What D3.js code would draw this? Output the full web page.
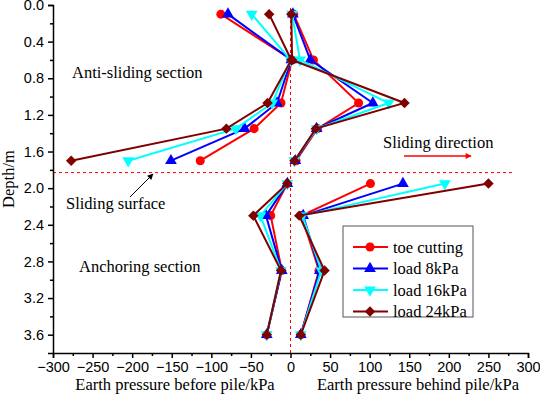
<!DOCTYPE html>
<html>
<head>
<meta charset="utf-8">
<script src="https://cdn.jsdelivr.net/npm/d3@7"></script>
<style>
  body { margin: 0; background: #fff; }
  svg { display: block; }
</style>
</head>
<body>
<div id="chart"></div>
<script>
// depths (m) where the pressure cells sit
var depthUpper = [0.1, 0.6, 1.07, 1.35, 1.7];
var depthLower = [1.95, 2.3, 2.9, 3.6];

var seriesNames = ["toe cutting", "load 8kPa", "load 16kPa", "load 24kPa"];

// earth pressure before pile (kPa), upper part
var beforeUpper = [
  [-88, 2, -12, -46, -114],
  [-79, 1, -17, -58, -151],
  [-49, 0, -23, -69, -205],
  [-27, 1, -29, -81, -277]
];
// earth pressure behind pile (kPa), upper part
var behindUpper = [
  [4, 29, 86, 34, 7],
  [3, 25, 104, 33, 6],
  [2, 12, 124, 33, 5],
  [1, 2, 144, 32, 5]
];
// lower part
var beforeLower = [
  [-4, -25, -11, -30],
  [-4, -31, -11, -30],
  [-4, -38, -12, -30],
  [-4, -47, -12, -30]
];
var behindLower = [
  [101, 14, 36, 13],
  [142, 16, 37, 13],
  [195, 15, 39, 13],
  [250, 11, 43, 13]
];

var xTicks = [-300, -250, -200, -150, -100, -50, 0, 50, 100, 150, 200, 250, 300];
var yTicks = [0.0, 0.4, 0.8, 1.2, 1.6, 2.0, 2.4, 2.8, 3.2, 3.6];
var slidingDepth = 1.83;

var colors = ["#ff0000", "#0000ff", "#00ffff", "#800000"];
var symbols = [d3.symbolCircle, d3.symbolTriangle, d3.symbolTriangle, d3.symbolDiamond2];
var symbolRotate = [0, 0, 180, 0];
var symbolSize = [64, 60, 60, 70];

var width = 540, height = 396;
var x0 = 53, x1 = 528, yTop = 5, yBot = 353;

var serif = "'Liberation Serif', 'Times New Roman', serif";
var sans = "'Liberation Sans', Arial, sans-serif";
var serifSize = 16.5;

var svg = d3.select("#chart").append("svg")
  .attr("width", width)
  .attr("height", height);

var x = d3.scaleLinear().domain([-300, 300]).range([x0, x1]);
var y = d3.scaleLinear().domain([0, 3.8]).range([yTop, yBot]);

// reference lines
svg.append("line")
  .attr("x1", x(0)).attr("x2", x(0))
  .attr("y1", yTop + 3).attr("y2", yBot)
  .attr("stroke", "#ff0000").attr("stroke-width", 1)
  .attr("stroke-dasharray", "3,3");
svg.append("line")
  .attr("x1", x0).attr("x2", 515)
  .attr("y1", y(slidingDepth)).attr("y2", y(slidingDepth))
  .attr("stroke", "#ff0000").attr("stroke-width", 1)
  .attr("stroke-dasharray", "3,3");

// axes
var xAxis = d3.axisBottom(x).tickValues(xTicks).tickSize(5).tickPadding(4)
  .tickFormat(d3.format("d"));
var gx = svg.append("g").attr("transform", "translate(0," + yBot + ")").call(xAxis);
gx.selectAll(".tick text").attr("font-family", sans).attr("font-size", 14.5).attr("fill", "#000");

var xMinor = d3.axisBottom(x).tickValues(d3.range(-275, 300, 50)).tickSize(3).tickFormat("");
svg.append("g").attr("transform", "translate(0," + yBot + ")").call(xMinor)
  .select(".domain").remove();

var yAxis = d3.axisLeft(y).tickValues(yTicks).tickSize(5).tickPadding(4)
  .tickFormat(d3.format(".1f"));
var gy = svg.append("g").attr("transform", "translate(" + x0 + ",0)").call(yAxis);
gy.selectAll(".tick text").attr("font-family", sans).attr("font-size", 14.5).attr("fill", "#000");

var yMinor = d3.axisLeft(y).tickValues(d3.range(0.2, 3.8, 0.4)).tickSize(3).tickFormat("");
svg.append("g").attr("transform", "translate(" + x0 + ",0)").call(yMinor)
  .select(".domain").remove();

svg.selectAll(".domain").attr("stroke", "#000").attr("stroke-width", 1.5);
svg.selectAll(".tick line").attr("stroke", "#000").attr("stroke-width", 1.5);

// axis titles
svg.append("text")
  .attr("x", 175).attr("y", 390)
  .attr("text-anchor", "middle")
  .attr("font-family", serif).attr("font-size", serifSize)
  .text("Earth pressure before pile/kPa");
svg.append("text")
  .attr("x", 418).attr("y", 390)
  .attr("text-anchor", "middle")
  .attr("font-family", serif).attr("font-size", serifSize)
  .text("Earth pressure behind pile/kPa");
svg.append("text")
  .attr("transform", "translate(14," + ((yTop + yBot) / 2) + ") rotate(-90)")
  .attr("text-anchor", "middle")
  .attr("font-family", serif).attr("font-size", serifSize)
  .text("Depth/m");

// series
var line = d3.line()
  .x(function (d) { return x(d[0]); })
  .y(function (d) { return y(d[1]); });

function pairs(vals, depths) {
  return vals.map(function (v, i) { return [v, depths[i]]; });
}

seriesNames.forEach(function (name, s) {
  var groups = [
    pairs(beforeUpper[s], depthUpper),
    pairs(behindUpper[s], depthUpper),
    pairs(beforeLower[s], depthLower),
    pairs(behindLower[s], depthLower)
  ];
  var g = svg.append("g").attr("class", "series");
  groups.forEach(function (pts) {
    g.append("path")
      .attr("d", line(pts))
      .attr("fill", "none")
      .attr("stroke", colors[s])
      .attr("stroke-width", 2);
    g.selectAll(null)
      .data(pts)
      .enter()
      .append("path")
      .attr("d", d3.symbol().type(symbols[s]).size(symbolSize[s]))
      .attr("transform", function (d) {
        return "translate(" + x(d[0]) + "," + y(d[1]) + ") rotate(" + symbolRotate[s] + ")";
      })
      .attr("fill", colors[s]);
  });
});

// annotations
svg.append("text").attr("x", 72).attr("y", 78)
  .attr("font-family", serif).attr("font-size", serifSize)
  .text("Anti-sliding section");
svg.append("text").attr("x", 383).attr("y", 148)
  .attr("font-family", serif).attr("font-size", serifSize)
  .text("Sliding direction");
svg.append("text").attr("x", 66).attr("y", 209)
  .attr("font-family", serif).attr("font-size", serifSize)
  .text("Sliding surface");
svg.append("text").attr("x", 79).attr("y", 272)
  .attr("font-family", serif).attr("font-size", serifSize)
  .text("Anchoring section");

var defs = svg.append("defs");
defs.append("marker").attr("id", "arrRed")
  .attr("viewBox", "0 0 10 10").attr("refX", 9).attr("refY", 5)
  .attr("markerWidth", 6).attr("markerHeight", 4).attr("orient", "auto")
  .attr("markerUnits", "strokeWidth")
  .append("path").attr("d", "M0,0L10,5L0,10z").attr("fill", "#ff0000");
defs.append("marker").attr("id", "arrBlack")
  .attr("viewBox", "0 0 10 10").attr("refX", 9).attr("refY", 5)
  .attr("markerWidth", 8).attr("markerHeight", 6).attr("orient", "auto")
  .attr("markerUnits", "strokeWidth")
  .append("path").attr("d", "M0,0L10,5L0,10z").attr("fill", "#000");

svg.append("line")
  .attr("x1", 404).attr("y1", 156).attr("x2", 471).attr("y2", 156)
  .attr("stroke", "#ff0000").attr("stroke-width", 1.5)
  .attr("marker-end", "url(#arrRed)");
svg.append("line")
  .attr("x1", 130).attr("y1", 197).attr("x2", 153).attr("y2", 174)
  .attr("stroke", "#000").attr("stroke-width", 1)
  .attr("marker-end", "url(#arrBlack)");

// legend
var legend = svg.append("g");
legend.append("rect")
  .attr("x", 343).attr("y", 226).attr("width", 130).attr("height", 91)
  .attr("fill", "#fff").attr("stroke", "#555").attr("stroke-width", 1);
seriesNames.forEach(function (name, s) {
  var ly = 247 + s * 21.5;
  legend.append("line")
    .attr("x1", 353).attr("x2", 388).attr("y1", ly).attr("y2", ly)
    .attr("stroke", colors[s]).attr("stroke-width", 2);
  legend.append("path")
    .attr("d", d3.symbol().type(symbols[s]).size(symbolSize[s]))
    .attr("transform", "translate(370," + ly + ") rotate(" + symbolRotate[s] + ")")
    .attr("fill", colors[s]);
  legend.append("text")
    .attr("x", 393).attr("y", ly + 5.5)
    .attr("font-family", serif).attr("font-size", serifSize)
    .text(name);
});
</script>
</body>
</html>
